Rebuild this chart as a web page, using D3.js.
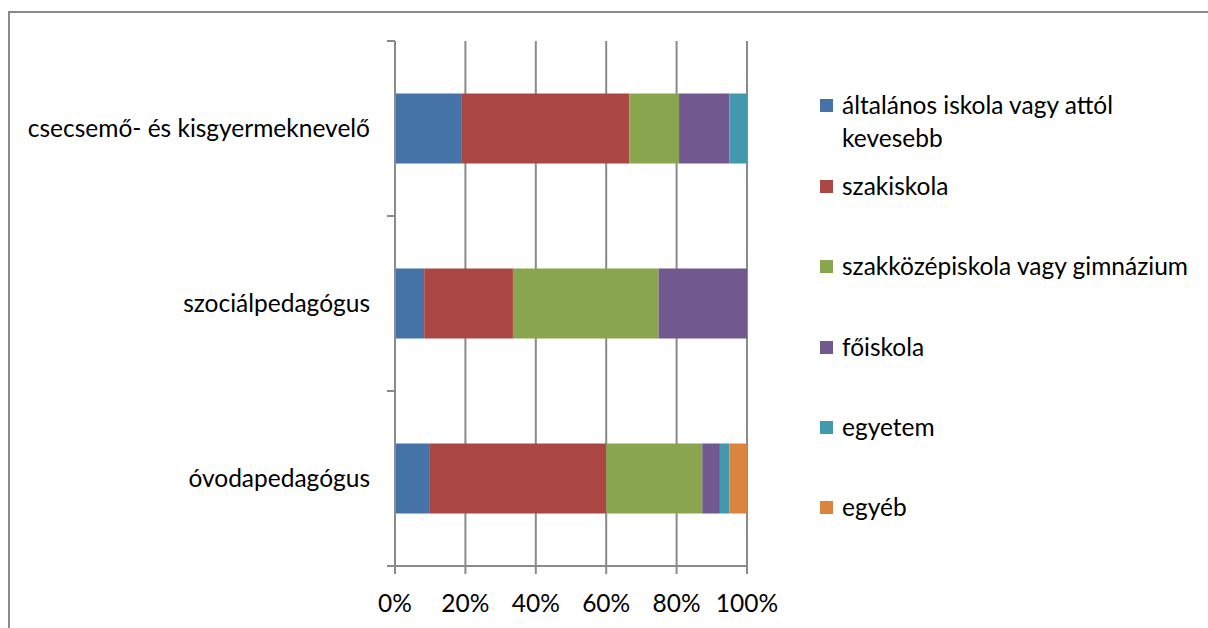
<!DOCTYPE html>
<html>
<head>
<meta charset="utf-8">
<script src="https://cdn.jsdelivr.net/npm/d3@7"></script>
<style>
  body { margin: 0; background: #fff; }
  svg text { font-family: Lato, "Open Sans", sans-serif; fill: #000; }
</style>
</head>
<body>
<svg id="chart" width="1208" height="628"></svg>
<script>
//data
const categories = ["csecsemő- és kisgyermeknevelő", "szociálpedagógus", "óvodapedagógus"];
const seriesNames = ["általános iskola vagy attól kevesebb", "szakiskola", "szakközépiskola vagy gimnázium", "főiskola", "egyetem", "egyéb"];
const seriesColors = ["#4572A7", "#AA4643", "#89A54E", "#71588F", "#4198AF", "#DB843D"];
// values per category, in series order (percent)
const csecsemoValues = [19.0, 47.6, 14.1, 14.3, 5.0, 0];
const szocialValues = [8.3, 25.2, 41.4, 25.1, 0, 0];
const ovodaValues = [9.7, 50.3, 27.3, 5.0, 2.7, 5.0];
const xTicks = [0, 20, 40, 60, 80, 100];

const valuesByCategory = [csecsemoValues, szocialValues, ovodaValues];

const fontSize = "24.5px";
const svg = d3.select("#chart");

//frame
svg.append("path")
  .attr("d", "M9,628 V12 H1208")
  .attr("fill", "none")
  .attr("stroke", "#8a8a8a")
  .attr("stroke-width", 2);

const plotLeft = 395, plotRight = 747, plotTop = 41, plotBottom = 566;

const x = d3.scaleLinear().domain([0, 100]).range([plotLeft, plotRight]);
const y = d3.scaleBand().domain(categories).range([plotTop, plotBottom]).paddingInner(0.6).paddingOuter(0.3);

//gridlines
svg.append("g")
  .selectAll("line")
  .data(xTicks.slice(1))
  .join("line")
  .attr("x1", d => x(d)).attr("x2", d => x(d))
  .attr("y1", plotTop).attr("y2", plotBottom)
  .attr("stroke", "#8a8a8a")
  .attr("stroke-width", 2);

//stacked bars
const rows = categories.map((c, i) => {
  const r = { category: c };
  seriesNames.forEach((s, j) => r[s] = valuesByCategory[i][j]);
  return r;
});
const stack = d3.stack().keys(seriesNames)(rows);

svg.append("g")
  .selectAll("g")
  .data(stack)
  .join("g")
  .attr("fill", (d, i) => seriesColors[i])
  .selectAll("rect")
  .data(d => d)
  .join("rect")
  .attr("x", d => x(d[0]))
  .attr("width", d => x(d[1]) - x(d[0]))
  .attr("y", d => y(d.data.category))
  .attr("height", y.bandwidth());

//y axis (ticks between categories)
const bandStep = (plotBottom - plotTop) / categories.length;
const yAxis = svg.append("g");
yAxis.append("line")
  .attr("x1", plotLeft).attr("x2", plotLeft)
  .attr("y1", plotTop).attr("y2", plotBottom)
  .attr("stroke", "#8a8a8a").attr("stroke-width", 2);
yAxis.selectAll(".tick")
  .data(d3.range(categories.length + 1))
  .join("line")
  .attr("x1", plotLeft - 8).attr("x2", plotLeft)
  .attr("y1", d => plotTop + d * bandStep).attr("y2", d => plotTop + d * bandStep)
  .attr("stroke", "#8a8a8a").attr("stroke-width", 2);
yAxis.selectAll("text")
  .data(categories)
  .join("text")
  .attr("x", 370)
  .attr("y", d => y(d) + y.bandwidth() / 2)
  .attr("dy", "0.35em")
  .attr("text-anchor", "end")
  .style("font-size", fontSize)
  .text(d => d);

//x axis
const xAxis = svg.append("g");
xAxis.append("line")
  .attr("x1", plotLeft).attr("x2", plotRight)
  .attr("y1", plotBottom).attr("y2", plotBottom)
  .attr("stroke", "#8a8a8a").attr("stroke-width", 2);
xAxis.selectAll(".tick")
  .data(xTicks)
  .join("line")
  .attr("x1", d => x(d)).attr("x2", d => x(d))
  .attr("y1", plotBottom).attr("y2", plotBottom + 8)
  .attr("stroke", "#8a8a8a").attr("stroke-width", 2);
xAxis.selectAll("text")
  .data(xTicks)
  .join("text")
  .attr("x", d => x(d))
  .attr("y", 603)
  .attr("dy", "0.35em")
  .attr("text-anchor", "middle")
  .style("font-size", fontSize)
  .text(d => d + "%");

//legend
const legendY = [105, 186, 266, 347, 427, 507];
const legendLines = [["általános iskola vagy attól", "kevesebb"], ["szakiskola"], ["szakközépiskola vagy gimnázium"], ["főiskola"], ["egyetem"], ["egyéb"]];
const legend = svg.append("g")
  .selectAll("g")
  .data(seriesNames)
  .join("g")
  .attr("transform", (d, i) => `translate(820,${legendY[i]})`);
legend.append("rect")
  .attr("x", 0).attr("y", -6)
  .attr("width", 13).attr("height", 13)
  .attr("fill", (d, i) => seriesColors[i]);
legend.append("text")
  .attr("x", 22)
  .style("font-size", fontSize)
  .selectAll("tspan")
  .data((d, i) => legendLines[i])
  .join("tspan")
  .attr("x", 22)
  .attr("y", (d, j) => j * 33)
  .attr("dy", "0.35em")
  .text(d => d);
</script>
</body>
</html>
